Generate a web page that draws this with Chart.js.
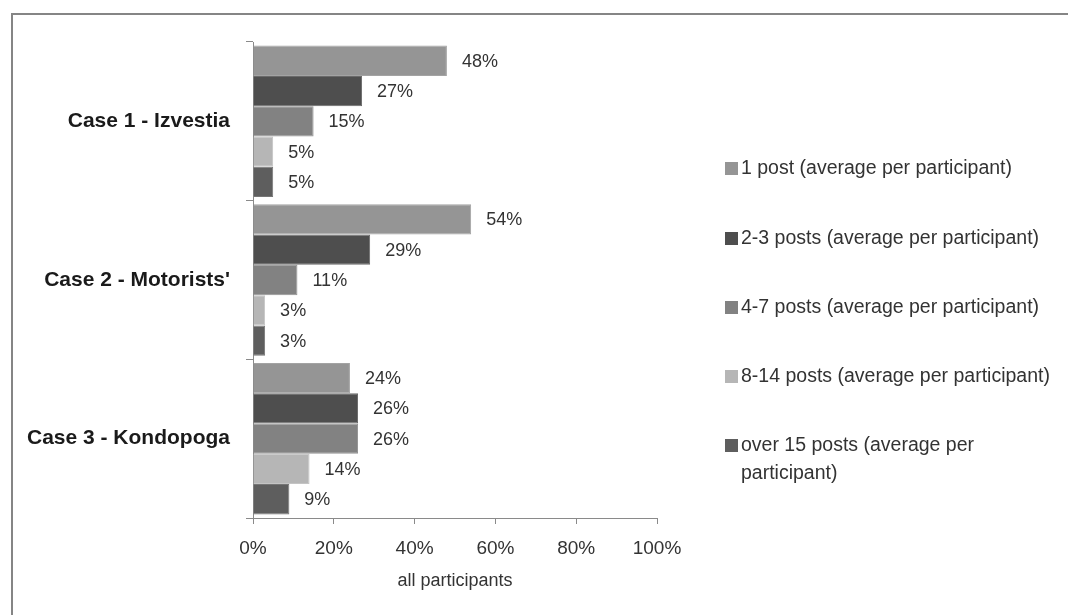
<!DOCTYPE html>
<html>
<head>
<meta charset="utf-8">
<script src="https://cdn.jsdelivr.net/npm/chart.js@4/dist/chart.umd.min.js"></script>
<style>
  html, body { margin: 0; padding: 0; background: #fff; }
  #wrap { width: 1068px; height: 615px; position: relative; }
</style>
</head>
<body>
<div id="wrap"><canvas id="c" width="1068" height="615"></canvas></div>
<script>
const categories = ["Case 1 - Izvestia", "Case 2 - Motorists'", "Case 3 - Kondopoga"];
const seriesNames = [
  "1 post (average per participant)",
  "2-3 posts (average per participant)",
  "4-7 posts (average per participant)",
  "8-14 posts (average per participant)",
  "over 15 posts (average per participant)"
];
const onePost = [48, 54, 24];
const twoToThree = [27, 29, 26];
const fourToSeven = [15, 11, 26];
const eightToFourteen = [5, 3, 14];
const overFifteen = [5, 3, 9];
const xTicks = [0, 20, 40, 60, 80, 100];
const xTitle = "all participants";

const fills = ["#959595", "#4e4e4e", "#828282", "#b6b6b6", "#5e5e5e"];
const borders = ["#a3a3a3", "#6a6a6a", "#939393", "#c4c4c4", "#767676"];
const values = [onePost, twoToThree, fourToSeven, eightToFourteen, overFifteen];

const FONT = "'Liberation Sans', Arial, sans-serif";

const frame = {
  id: 'frame',
  beforeDraw(chart) {
    const ctx = chart.ctx;
    ctx.save();
    ctx.fillStyle = '#ffffff';
    ctx.fillRect(0, 0, chart.width, chart.height);
    ctx.strokeStyle = '#858585';
    ctx.lineWidth = 2;
    ctx.strokeRect(12, 14, 1200, 800);
    ctx.restore();
  }
};

const valueLabels = {
  id: 'valueLabels',
  afterDatasetsDraw(chart) {
    const ctx = chart.ctx;
    ctx.save();
    ctx.font = "18px " + FONT;
    ctx.fillStyle = '#333333';
    ctx.textBaseline = 'middle';
    ctx.textAlign = 'left';
    chart.data.datasets.forEach((ds, i) => {
      const meta = chart.getDatasetMeta(i);
      meta.data.forEach((bar, j) => {
        ctx.fillText(ds.data[j] + '%', bar.x + 15, bar.y + 1);
      });
    });
    ctx.restore();
  }
};

const sideLegend = {
  id: 'sideLegend',
  afterDraw(chart) {
    const ctx = chart.ctx;
    ctx.save();
    ctx.font = "19.5px " + FONT;
    ctx.textBaseline = 'middle';
    ctx.textAlign = 'left';
    const x0 = 725, tx = 741, maxW = 318;
    const ys = [169, 239, 308, 377, 446];
    chart.data.datasets.forEach((ds, i) => {
      const y = ys[i];
      ctx.fillStyle = ds.backgroundColor;
      ctx.fillRect(x0, y - 7, 13, 13);
      ctx.fillStyle = '#333333';
      const words = ds.label.split(' ');
      const lines = [];
      let line = '';
      words.forEach(w => {
        const test = line ? line + ' ' + w : w;
        if (ctx.measureText(test).width > maxW && line) { lines.push(line); line = w; }
        else line = test;
      });
      if (line) lines.push(line);
      lines.forEach((l, k) => ctx.fillText(l, tx, y + k * 28));
    });
    ctx.restore();
  }
};

new Chart(document.getElementById('c'), {
  type: 'bar',
  data: {
    labels: categories,
    datasets: seriesNames.map((name, i) => ({
      label: name,
      data: values[i],
      backgroundColor: fills[i],
      borderColor: borders[i],
      borderWidth: 1,
      categoryPercentage: 0.955,
      barPercentage: 1.0
    }))
  },
  options: {
    indexAxis: 'y',
    responsive: false,
    animation: false,
    devicePixelRatio: 1,
    layout: { padding: { left: 0, top: 42, right: 411, bottom: 23 } },
    plugins: { legend: { display: false }, tooltip: { enabled: false } },
    scales: {
      y: {
        grid: { display: true, offset: true, drawOnChartArea: false, tickLength: 7, color: '#8a8a8a' },
        border: { display: true, color: '#8a8a8a', width: 1 },
        ticks: { color: '#1a1a1a', padding: 16, font: { family: FONT, size: 21, weight: 'bold' } },
        afterFit(scale) { scale.width = 253; }
      },
      x: {
        min: 0, max: 100,
        afterBuildTicks(scale) { scale.ticks = xTicks.map(v => ({ value: v })); },
        grid: { display: true, drawOnChartArea: false, tickLength: 6, color: '#8a8a8a' },
        border: { display: true, color: '#8a8a8a', width: 1 },
        ticks: { color: '#333333', padding: 13, font: { family: FONT, size: 19 }, callback: v => v + '%' },
        title: { display: true, text: xTitle, color: '#333333', padding: { top: 4, bottom: 0 }, font: { family: FONT, size: 18 } },
        afterFit(scale) { scale.height = 74; }
      }
    }
  },
  plugins: [frame, valueLabels, sideLegend]
});
</script>
</body>
</html>
